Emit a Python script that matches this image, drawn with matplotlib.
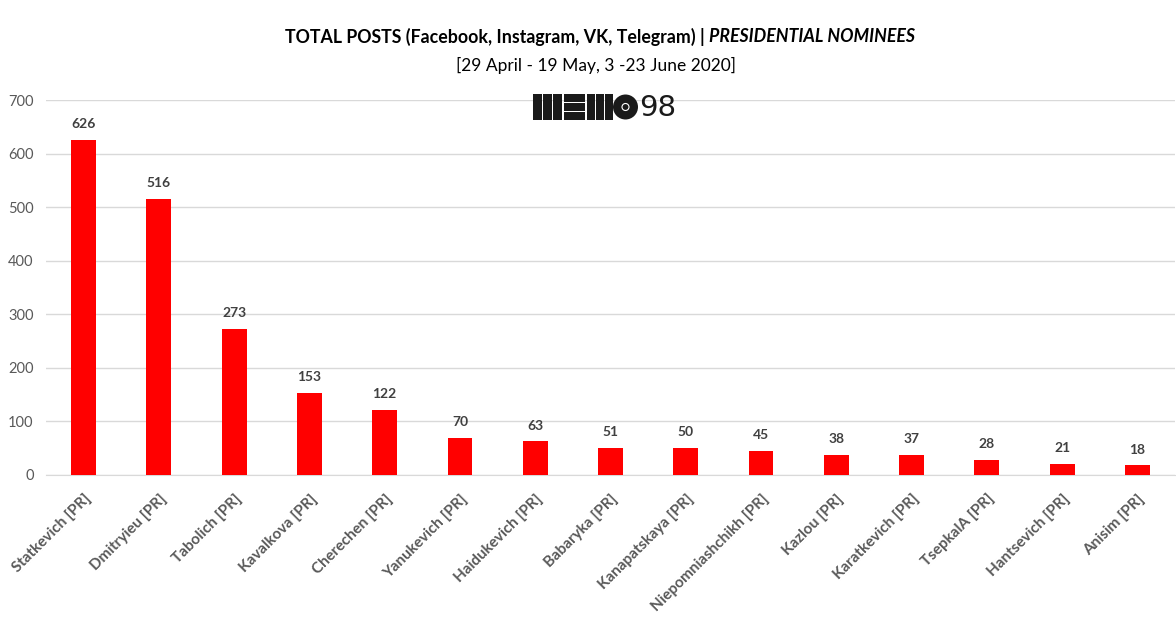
import matplotlib.pyplot as plt
from matplotlib.patches import Rectangle, Circle

# Data
names = ["Statkevich [PR]", "Dmitryieu [PR]", "Tabolich [PR]", "Kavalkova [PR]",
         "Cherechen [PR]", "Yanukevich [PR]", "Haidukevich [PR]", "Babaryka [PR]",
         "Kanapatskaya [PR]", "Niepomniashchikh [PR]", "Kazlou [PR]",
         "Karatkevich [PR]", "TsepkalA [PR]", "Hantsevich [PR]", "Anisim [PR]"]
posts = [626, 516, 273, 153, 122, 70, 63, 51, 50, 45, 38, 37, 28, 21, 18]
y_ticks = [0, 100, 200, 300, 400, 500, 600, 700]

plt.rcParams['font.family'] = ['Lato', 'DejaVu Sans']

W, H = 1176, 635
fig = plt.figure(figsize=(W / 100, H / 100), dpi=100)
ax = fig.add_axes([46 / W, 160 / H, 1129 / W, 375 / H])

x = range(len(names))
ax.bar(x, posts, width=0.33, color="#ff0000", zorder=3)
for i, v in zip(x, posts):
    ax.annotate(str(v), (i, v), xytext=(0, 7), textcoords="offset points",
                ha="center", va="bottom", fontsize=10, fontweight="bold",
                color="#404040")

ax.set_xlim(-0.5, len(names) - 0.5)
ax.set_ylim(0, 700)
ax.set_yticks(y_ticks)
ax.set_xticks(list(x))
ax.set_xticklabels(names, rotation=45, ha="right", rotation_mode="anchor",
                   fontsize=11, fontweight="bold", color="#595959")
ax.tick_params(axis="y", labelsize=10.5, colors="#595959", length=0, pad=9)
ax.tick_params(axis="x", length=0, pad=12)
ax.grid(axis="y", color="#d9d9d9", linewidth=1, zorder=0)
for s in ["top", "right", "left"]:
    ax.spines[s].set_visible(False)
ax.spines["bottom"].set_color("#d9d9d9")

# Titles
fig.canvas.draw()
renderer = fig.canvas.get_renderer()
t1 = fig.text(285 / W, 1 - 37 / H, "TOTAL POSTS (Facebook, Instagram, VK, Telegram) | ",
              ha="left", va="center", fontsize=12.8, fontweight="bold", color="black")
bb = t1.get_window_extent(renderer)
fig.text(bb.x1 / W, 1 - 37 / H, "PRESIDENTIAL NOMINEES", ha="left", va="center",
         fontsize=12.8, fontweight="bold", style="italic", color="black")
fig.text(596 / W, 1 - 65 / H, "[29 April - 19 May, 3 -23 June 2020]",
         ha="center", va="center", fontsize=12.5, color="black")


# Logo (pixel coords from top-left, drawn in inches)
tr = fig.dpi_scale_trans


def px_rect(x0, y0, w, h):
    fig.add_artist(Rectangle((x0 / 100, (H - y0 - h) / 100), w / 100, h / 100,
                             transform=tr, color="#1a1a1a", lw=0))


top, hgt = 94, 26
for k in range(3):
    px_rect(533 + k * 10, top, 9, hgt)
for k in range(3):
    px_rect(564, top + k * 9, 21, 8)
for k in range(3):
    px_rect(587 + k * 9, top, 8, hgt)
cx, cy, r = 625.5, top + hgt / 2, 12.5
fig.add_artist(Circle((cx / 100, (H - cy) / 100), r / 100, transform=tr,
                      color="#1a1a1a", lw=0))
fig.add_artist(Circle((cx / 100, (H - cy) / 100), 3.5 / 100, transform=tr,
                      facecolor="#1a1a1a", edgecolor="white", lw=0.8))
fig.text(639 / W, 1 - (cy + 1) / H, "98", ha="left", va="center", fontsize=21,
         fontweight="normal", color="#1a1a1a", family="DejaVu Sans")

fig.savefig("out.png", dpi=100)
